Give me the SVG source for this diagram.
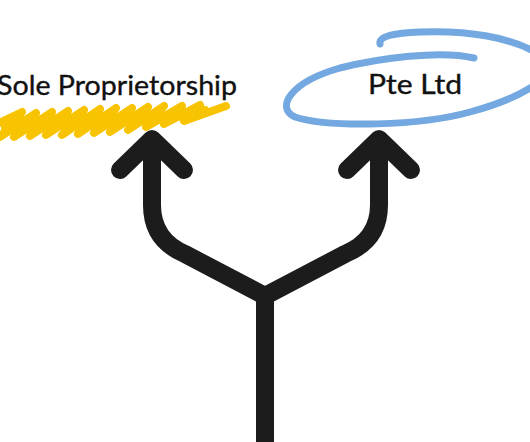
<svg xmlns="http://www.w3.org/2000/svg" width="530" height="442" viewBox="0 0 530 442">
<style>
.lbl{font-family:Lato,"Open Sans","Liberation Sans",sans-serif;font-size:26px;fill:#111;stroke:#111;stroke-width:0.35;}
.arrow{fill:none;stroke:#1c1c1c;stroke-width:18;stroke-linecap:round;stroke-linejoin:round;}
.blue{fill:none;stroke:#74a8e0;stroke-width:7;stroke-linecap:round;}
.yel{fill:none;stroke:#f8c300;stroke-width:8;stroke-linecap:round;stroke-linejoin:round;}
</style>
<rect width="530" height="442" fill="#fff"/>
<g id="sole">
<path class="yel" d="M-5 125 L22 112 L0 137 L36 113 L14 137 L52 112 L30 136 L68 111 L46 135 L84 110 L62 135 L100 109 L78 134 L116 108 L94 133 L132 108 L110 132 L148 107 L128 130 L164 106 L146 127 L182 106 L164 124 L200 105 L184 121 L226 106"/>
<path class="yel" d="M5 128 L60 118 M100 120 L150 114 M160 117 L205 110" stroke-width="6"/>
<text class="lbl" x="-3" y="95" textLength="240" lengthAdjust="spacingAndGlyphs">Sole Proprietorship</text>
</g>
<g id="pte">
<path class="blue" d="M380 44 C378 36 395 33 420 32 C470 30 510 38 535 52"/>
<path class="blue" d="M474 58 C440 50 380 58 340 68 C290 82 275 108 295 117 C330 128 420 126 470 112 C500 104 520 95 535 85"/>
<text class="lbl" x="368" y="94" textLength="94" lengthAdjust="spacingAndGlyphs">Pte Ltd</text>
</g>
<g id="connectors">
<path class="arrow" d="M152 142 V205 Q152 240 185 254 L265 296 L345 254 Q379 240 379 205 V142"/>
<path class="arrow" d="M265 296 V450" stroke-linecap="butt"/>
<path class="arrow" d="M120 170 L152 139 L184 170"/>
<path class="arrow" d="M347 170 L379 139 L411 170"/>
</g>
</svg>
